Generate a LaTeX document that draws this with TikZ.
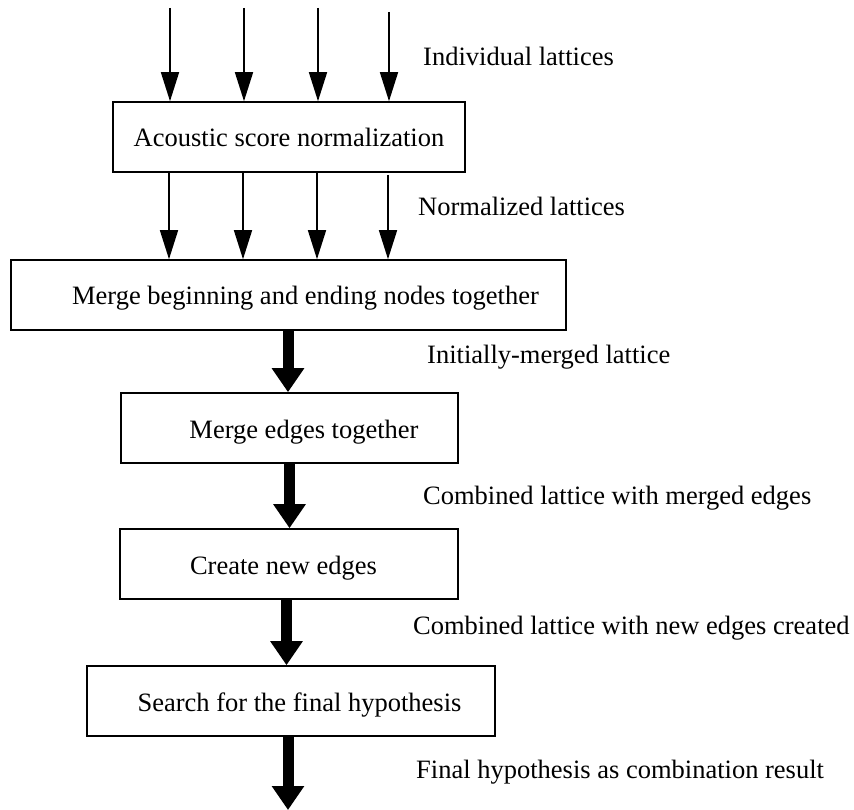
\documentclass[tikz,border=0pt]{standalone}
\usepackage{fontspec}
\setmainfont{Liberation Serif}
\usetikzlibrary{arrows.meta}

\begin{document}
\begin{tikzpicture}[x=1pt,y=-1pt,
  stage/.style={draw, line width=1.6pt, inner sep=0pt, minimum height=70pt,
    text height=20pt, text depth=0pt, font=\fontsize{26.5}{30}\selectfont},
  note/.style={anchor=base west, inner sep=0pt, font=\fontsize{26.5}{30}\selectfont},
  thinarrow/.style={line width=1.6pt, -{Triangle[length=29pt,width=18pt]}},
  thickarrow/.style={line width=11pt, -{Triangle[length=24pt,width=31pt]}}]

\useasboundingbox (0,0) rectangle (854,810);

% processing stages
\node[stage, minimum width=352pt] (b1) at (289,137) {Acoustic score normalization};
\node[stage, minimum width=555pt] (b2) at (288.5,295) {\hspace*{34pt}Merge beginning and ending nodes together};
\node[stage, minimum width=337pt] (b3) at (289.5,428) {\hspace*{29pt}Merge edges together};
\node[stage, minimum width=338pt] (b4) at (289,564) {Create new edges\hspace*{11pt}};
\node[stage, minimum width=408pt] (b5) at (291,701) {\hspace*{17pt}Search for the final hypothesis};

% incoming individual lattices
\coordinate (in1) at (170,8);
\coordinate (in2) at (244,8);
\coordinate (in3) at (318,8);
\coordinate (in4) at (389,12);
\foreach \c in {in1,in2,in3,in4}
  \draw[thinarrow] (\c) -- (b1.north -| \c);

% normalized lattices
\coordinate (n1) at (169,172);
\coordinate (n2) at (243,172);
\coordinate (n3) at (317,172);
\coordinate (n4) at (388,175);
\draw[thinarrow] (b1.south -| n1) -- (b2.north -| n1);
\draw[thinarrow] (b1.south -| n2) -- (b2.north -| n2);
\draw[thinarrow] (b1.south -| n3) -- (b2.north -| n3);
\draw[thinarrow] (n4) -- (b2.north -| n4);

% merged lattice flow
\coordinate (t1) at (288,0);
\coordinate (t2) at (289.5,0);
\coordinate (t3) at (286.5,0);
\coordinate (out) at (288,810);
\draw[thickarrow] (b2.south -| t1) -- (b3.north -| t1);
\draw[thickarrow] (b3.south -| t2) -- (b4.north -| t2);
\draw[thickarrow] (b4.south -| t3) -- (b5.north -| t3);
\draw[thickarrow] (b5.south -| out) -- (out);

% data labels
\node[note] (l1) at (423,66) {Individual lattices};
\node[note] (l2) at (418,216) {Normalized lattices};
\node[note] (l3) at (427,363) {Initially-merged lattice};
\node[note] (l4) at (423,504) {Combined lattice with merged edges};
\node[note] (l5) at (413,634) {Combined lattice with new edges created};
\node[note] (l6) at (416,778) {Final hypothesis as combination result};
\end{tikzpicture}
\end{document}
